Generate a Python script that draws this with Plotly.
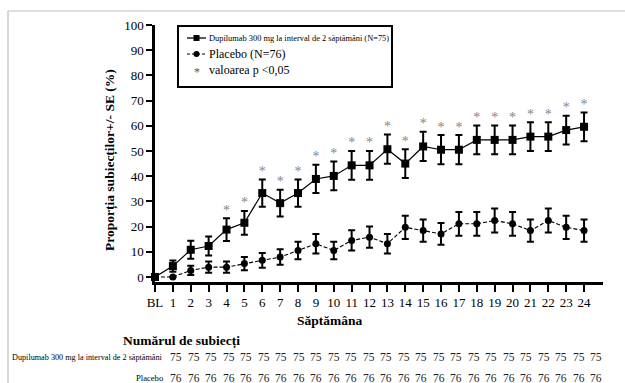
import plotly.graph_objects as go

# ---------------- data ----------------
weeks = list(range(25))
week_labels = ["BL"] + [str(i) for i in range(1, 25)]

dupilumab = [0, 4.3, 10.8, 12.3, 18.8, 21.5, 33.3, 29.3, 33.3, 38.9, 40.1, 44.3, 44.3,
             50.7, 45.0, 51.8, 50.5, 50.5, 54.4, 54.4, 54.4, 55.7, 55.7, 58.3, 59.6]
dupilumab_se = [0, 2.2, 3.6, 3.8, 4.5, 4.7, 5.4, 5.3, 5.4, 5.6, 5.7, 5.7, 5.7,
                5.8, 5.7, 5.8, 5.8, 5.8, 5.7, 5.7, 5.7, 5.7, 5.7, 5.7, 5.7]
placebo = [0, 0, 2.6, 3.9, 3.9, 5.3, 6.6, 7.9, 10.5, 13.2, 10.5, 14.5, 15.8,
           13.2, 19.7, 18.4, 17.1, 21.1, 21.1, 22.4, 21.1, 18.4, 22.4, 19.7, 18.4]
placebo_se = [0, 0, 1.8, 2.2, 2.2, 2.6, 2.9, 3.1, 3.5, 3.9, 3.5, 4.0, 4.2,
              3.9, 4.6, 4.4, 4.3, 4.7, 4.7, 4.8, 4.7, 4.4, 4.8, 4.6, 4.4]
significant = [False, False, False, False, True, True, True, True, True, True, True, True, True,
               True, True, True, True, True, True, True, True, True, True, True, True]
n_dupilumab = [75, 75, 75, 75, 75, 75, 75, 75, 75, 75, 75, 75, 75,
               75, 75, 75, 75, 75, 75, 75, 75, 75, 75, 75, 75]
n_placebo = [76, 76, 76, 76, 76, 76, 76, 76, 76, 76, 76, 76, 76,
             76, 76, 76, 76, 76, 76, 76, 76, 76, 76, 76, 76]
yticks = [0, 10, 20, 30, 40, 50, 60, 70, 80, 90, 100]

# ---------------- layout geometry (pixels) ----------------
W, H = 625, 383
L, R, T, B = 155, 22, 25, 101
PW, PH = W - L - R, H - T - B
SERIF = "Liberation Serif"


def px(x):
    return (x - L) / PW


def py(y):
    return (H - B - y) / PH


fig = go.Figure()

# Placebo
fig.add_trace(go.Scatter(
    x=weeks, y=placebo, mode="lines+markers",
    line=dict(color="black", width=1.1, dash="4px,2px"),
    marker=dict(symbol="circle", size=7, color="black"),
    error_y=dict(type="data", array=placebo_se, color="black", thickness=2, width=3.5),
    cliponaxis=False, showlegend=False))

# Dupilumab
fig.add_trace(go.Scatter(
    x=weeks, y=dupilumab, mode="lines+markers",
    line=dict(color="black", width=1.2),
    marker=dict(symbol="square", size=8, color="black"),
    error_y=dict(type="data", array=dupilumab_se, color="black", thickness=2, width=3.5),
    cliponaxis=False, showlegend=False))

# Significance asterisks
ax, ay = [], []
for w, v, e, s in zip(weeks, dupilumab, dupilumab_se, significant):
    if s:
        ax.append(w)
        ay.append(v + e)
fig.add_trace(go.Scatter(
    x=ax, y=ay, mode="text", text=["*"] * len(ax), textposition="top center",
    textfont=dict(family=SERIF, size=14, color="#858585"),
    cliponaxis=False, showlegend=False))

shapes = []
ann = []

# page border lines (light gray)
shapes.append(dict(type="line", xref="paper", yref="paper", x0=px(8), x1=px(W),
                   y0=py(11), y1=py(11), line=dict(color="#d4d4d4", width=1.5)))
shapes.append(dict(type="line", xref="paper", yref="paper", x0=px(8), x1=px(8),
                   y0=py(11), y1=py(H), line=dict(color="#c8c8c8", width=1.5)))

# legend box
shapes.append(dict(type="rect", xref="paper", yref="paper", x0=px(178), x1=px(392),
                   y0=py(26), y1=py(87), line=dict(color="black", width=2)))
# legend samples
shapes.append(dict(type="line", xref="paper", yref="paper", x0=px(187), x1=px(206),
                   y0=py(38), y1=py(38), line=dict(color="black", width=1.3)))
shapes.append(dict(type="rect", xref="paper", yref="paper", x0=px(193.5), x1=px(199.5),
                   y0=py(35), y1=py(41), fillcolor="black", line=dict(width=0)))
shapes.append(dict(type="line", xref="paper", yref="paper", x0=px(187), x1=px(206),
                   y0=py(54), y1=py(54), line=dict(color="black", width=1.2, dash="3px,2px")))
shapes.append(dict(type="circle", xref="paper", yref="paper", x0=px(193.5), x1=px(199.5),
                   y0=py(51), y1=py(57), fillcolor="black", line=dict(width=0)))

ann.append(dict(xref="paper", yref="paper", x=px(207), y=py(38), xanchor="left", yanchor="middle",
                text="Dupilumab 300 mg la interval de 2 săptămâni (N=75)", showarrow=False,
                font=dict(family=SERIF, size=8.4, color="black")))
ann.append(dict(xref="paper", yref="paper", x=px(207), y=py(54), xanchor="left", yanchor="middle",
                text="Placebo (N=76)", showarrow=False,
                font=dict(family=SERIF, size=12, color="black")))
ann.append(dict(xref="paper", yref="paper", x=px(196.5), y=py(72), xanchor="center", yanchor="middle",
                text="*", showarrow=False,
                font=dict(family=SERIF, size=12, color="#555555")))
ann.append(dict(xref="paper", yref="paper", x=px(207), y=py(70), xanchor="left", yanchor="middle",
                text="valoarea p <0,05", showarrow=False,
                font=dict(family=SERIF, size=12, color="black")))

# axis titles
ann.append(dict(xref="paper", yref="paper", x=px(110), y=py(160), xanchor="center", yanchor="middle",
                text="<b>Proporția subiecților+/- SE (%)</b>", textangle=-90, showarrow=False,
                font=dict(family=SERIF, size=13.5, color="black")))
ann.append(dict(xref="paper", yref="paper", x=px(330), y=py(320), xanchor="center", yanchor="middle",
                text="<b>Săptămâna</b>", showarrow=False,
                font=dict(family=SERIF, size=13.5, color="black")))

# number of subjects table
ann.append(dict(xref="paper", yref="paper", x=px(181), y=py(341), xanchor="center", yanchor="middle",
                text="<b>Numărul de subiecți</b>", showarrow=False,
                font=dict(family=SERIF, size=13.5, color="black")))
ann.append(dict(xref="paper", yref="paper", x=px(165), y=py(357), xanchor="right", yanchor="middle",
                text="Dupilumab 300 mg la interval de 2 săptămâni", showarrow=False,
                font=dict(family=SERIF, size=8.2, color="black")))
ann.append(dict(xref="paper", yref="paper", x=px(165), y=py(378), xanchor="right", yanchor="middle",
                text="Placebo", showarrow=False,
                font=dict(family=SERIF, size=8.6, color="black")))
for k, (nd, npl) in enumerate(zip(n_dupilumab, n_placebo)):
    xc = 176 + 17.5 * k
    ann.append(dict(xref="paper", yref="paper", x=px(xc), y=py(357), xanchor="center", yanchor="middle",
                    text=str(nd), showarrow=False,
                    font=dict(family=SERIF, size=11.5, color="#222222")))
    ann.append(dict(xref="paper", yref="paper", x=px(xc), y=py(378), xanchor="center", yanchor="middle",
                    text=str(npl), showarrow=False,
                    font=dict(family=SERIF, size=11.5, color="#222222")))

fig.update_layout(
    width=W, height=H,
    margin=dict(l=L, r=R, t=T, b=B, pad=0),
    paper_bgcolor="white", plot_bgcolor="white",
    shapes=shapes, annotations=ann,
    font=dict(family=SERIF, size=12, color="black"),
    xaxis=dict(range=[0, 25.06], tickmode="array", tickvals=weeks, ticktext=week_labels,
               showgrid=False, zeroline=False, showline=True, linecolor="black", linewidth=2.5,
               ticks="outside", ticklen=7, tickwidth=2, tickcolor="black",
               tickfont=dict(family=SERIF, size=13, color="black"), fixedrange=True),
    yaxis=dict(range=[-2, 100], tickmode="array", tickvals=yticks,
               showgrid=False, zeroline=False, showline=True, linecolor="black", linewidth=2.5,
               ticks="outside", ticklen=6, tickwidth=2, tickcolor="black",
               tickfont=dict(family=SERIF, size=13, color="black"), fixedrange=True),
)

fig.write_html("out.html")
